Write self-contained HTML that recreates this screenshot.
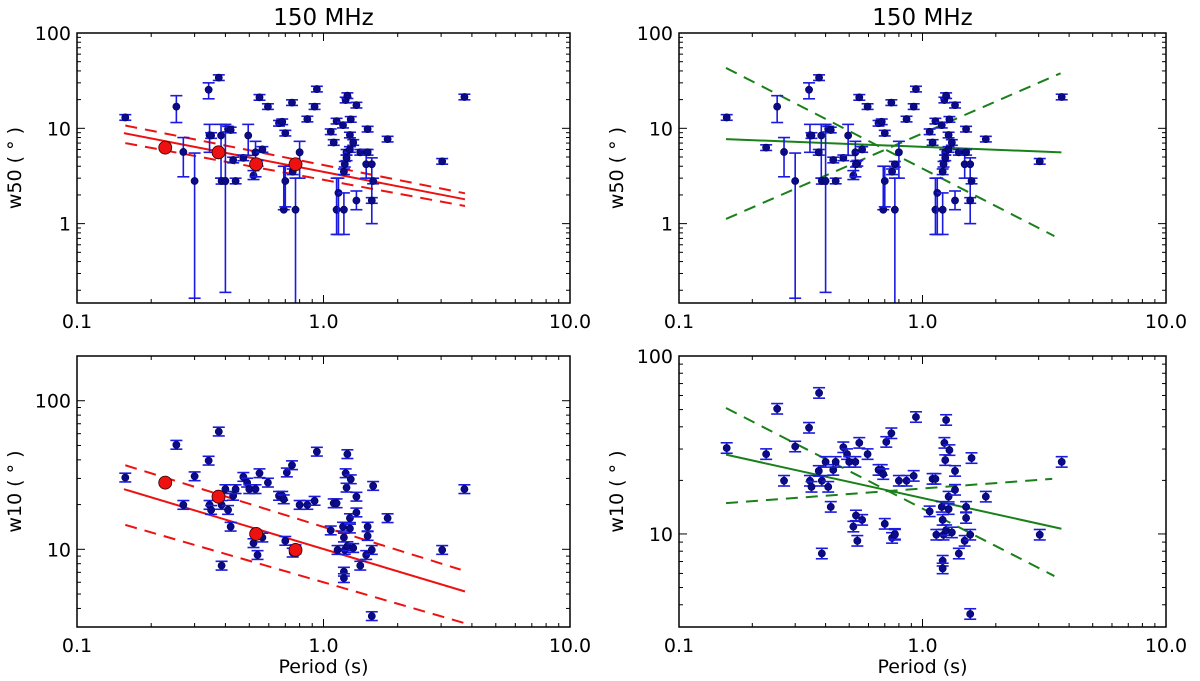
<!DOCTYPE html>
<html><head><meta charset="utf-8">
<style>
html,body{margin:0;padding:0;background:#fff;}
svg{display:block;font-family:"DejaVu Sans","Liberation Sans",sans-serif;}
</style></head>
<body>
<svg id="fig" width="1200" height="681" viewBox="0 0 1200 681" xmlns="http://www.w3.org/2000/svg"></svg>
<script>
// ---- top row data: period (s) and w50 (deg) ----
const p50 = [0.157,0.253,0.27,0.30,0.342,0.376,0.345,0.35,0.384,0.386,0.40,0.41,0.42,0.43,0.44,0.473,0.495,0.52,0.53,0.54,0.55,0.565,0.595,0.66,0.68,0.69,0.70,0.70,0.745,0.75,0.77,0.80,0.86,0.92,0.94,1.07,1.10,1.13,1.13,1.15,1.20,1.21,1.21,1.22,1.23,1.24,1.24,1.25,1.28,1.29,1.28,1.32,1.36,1.36,1.41,1.49,1.51,1.51,1.57,1.57,1.59,1.82,3.03,3.73];
const w50 = [13.0,16.9,5.65,2.8,25.4,34,8.45,8.4,8.4,2.8,2.8,9.8,9.6,4.65,2.8,4.9,8.4,3.2,5.6,4.3,21.1,6.0,16.9,11.3,11.7,1.4,8.9,2.8,18.6,3.5,1.4,5.6,12.5,16.9,25.8,9.2,7.1,1.4,11.9,2.1,10.8,3.5,1.4,4.2,19.8,5.6,4.9,22,8.5,12.4,6.0,7.1,17.5,1.75,5.6,4.2,5.6,9.8,4.2,1.75,2.8,7.7,4.5,21.3];
const w50lo = [null,11.5,3.1,0.165,20.4,null,5.6,null,3.0,2.6,0.19,null,null,null,null,null,5.2,2.9,3.1,null,null,null,null,null,null,1.4,null,1.5,null,null,0.1,3.0,null,null,null,null,null,0.77,null,0.77,null,null,0.77,null,null,null,null,null,null,null,null,null,null,1.4,null,3.0,null,null,1.0,null,null,null,null,null];
const w50hi = [null,22,8.0,5.5,30,null,11,null,11,3.0,11,null,null,null,null,null,11,3.6,7.3,null,null,null,null,null,null,4.0,null,4.0,null,null,3.0,7.3,null,null,null,null,null,3.0,null,3.0,null,null,2.1,null,null,null,null,null,null,null,null,null,null,2.2,null,6.0,null,null,4.9,null,null,null,null,null];
const pRed = [0.228,0.375,0.533,0.77];
const w50Red = [6.27,5.6,4.2,4.2];
const w10Red = [28.1,22.6,12.7,9.9];
// ---- bottom row data: period (s) and w10 (deg) ----
const p10 = [0.157,0.253,0.27,0.30,0.342,0.376,0.345,0.35,0.386,0.40,0.41,0.42,0.386,0.43,0.44,0.473,0.49,0.50,0.52,0.53,0.54,0.55,0.565,0.595,0.66,0.68,0.69,0.70,0.71,0.745,0.75,0.77,0.80,0.86,0.92,0.94,1.07,1.10,1.13,1.14,1.20,1.21,1.21,1.21,1.22,1.23,1.24,1.25,1.25,1.28,1.29,1.28,1.32,1.36,1.36,1.41,1.49,1.51,1.51,1.57,1.57,1.59,1.82,3.03,3.73];
const w10 = [30.4,50.5,19.9,31,39.5,62,19.9,18.4,19.9,25.4,18.4,14.2,7.76,22.9,25.4,30.7,28.1,25.4,11.0,25.4,9.15,32.5,12.0,28.1,22.9,22.9,21.7,11.4,32.9,36.8,9.5,10,19.9,19.9,21.2,45.4,13.4,20.4,20.4,9.9,14.2,12.0,7.07,6.4,9.9,32.5,26,43.7,10.5,16.2,29.6,13.8,10.2,22.6,17.7,7.76,9.15,14.2,12.3,9.9,3.55,26.7,16.2,9.9,25.4];
// ---- fit lines: [P_start, w_start, P_end, w_end] ----
const redFit50 = [0.155,8.9,3.75,1.8];
const redUp50 = [0.157,10.7,3.75,2.08];
const redLo50 = [0.157,7.0,3.75,1.53];
const redFit10 = [0.155,25.4,3.75,5.2];
const redUp10 = [0.157,36.8,3.6,7.3];
const redLo10 = [0.157,14.6,3.7,3.2];
const grnFit50 = [0.156,7.7,3.72,5.6];
const grnDn50 = [0.156,43,3.48,0.74];
const grnUp50 = [0.156,1.12,3.69,37.8];
const grnFit10 = [0.156,27.9,3.72,10.7];
const grnDn10 = [0.156,51,3.48,5.8];
const grnUp10 = [0.156,14.9,3.41,20.4];
const xTicks = ["0.1","1.0","10.0"];

const NS="http://www.w3.org/2000/svg";
const svg=document.getElementById('fig');
function mk(tag,attrs,parent){const e=document.createElementNS(NS,tag);for(const k in attrs)e.setAttribute(k,attrs[k]);(parent||svg).appendChild(e);return e;}
const L10=Math.log10;

function panel(cfg){
  const g=mk('g',{});
  
  
  const X=p=>cfg.x0+(L10(p)-(-1))/2*(cfg.x1-cfg.x0);
  const Y=v=>cfg.y1-(L10(v)-L10(cfg.ymin))/(L10(cfg.ymax)-L10(cfg.ymin))*(cfg.y1-cfg.y0);
  const cid='clip'+cfg.name;
  const cp=mk('clipPath',{id:cid},g);
  mk('rect',{x:cfg.x0,y:cfg.y0,width:cfg.x1-cfg.x0,height:cfg.y1-cfg.y0},cp);
  const plot=mk('g',{'clip-path':'url(#'+cid+')'},g);
  
  
  // lines
  function line(arr,color,dashed,nm){
    const l=mk('line',{x1:X(arr[0]),y1:Y(arr[1]),x2:X(arr[2]),y2:Y(arr[3]),stroke:color,'stroke-width':2,'stroke-dasharray':dashed?'12,8':'none'},plot);
    
    
  }
  cfg.lines.forEach(a=>line(a[0],a[1],a[2],a[3]));
  // blue points
  function points(P,W,LO,HI){
    for(let i=0;i<P.length;i++){
      const x=X(P[i]),lo=(LO&&LO[i]!=null)?LO[i]:W[i]/1.07,hi=(HI&&HI[i]!=null)?HI[i]:W[i]*1.07;
      const eb=mk('g',{stroke:'#1a1ae0','stroke-width':1.6},plot);
      
      
      mk('line',{x1:x,x2:x,y1:Y(lo),y2:Y(hi)},eb);
      mk('line',{x1:x-6,x2:x+6,y1:Y(lo),y2:Y(lo)},eb);
      mk('line',{x1:x-6,x2:x+6,y1:Y(hi),y2:Y(hi)},eb);
      const c=mk('circle',{cx:x,cy:Y(W[i]),r:3.6,fill:'#0b0b8a',stroke:'#000050','stroke-width':0.6},plot);
      
      
    }
  }
  points(cfg.P,cfg.W,cfg.LO,cfg.HI);
  if(cfg.extraBlue) points(pRed,cfg.extraBlue,null,null);
  if(cfg.red){
    for(let i=0;i<pRed.length;i++){
      const c=mk('circle',{cx:X(pRed[i]),cy:Y(cfg.red[i]),r:6.5,fill:'#ee1111',stroke:'#300','stroke-width':0.8},plot);
      
      
    }
  }
  // frame
  const fr=mk('rect',{x:cfg.x0,y:cfg.y0,width:cfg.x1-cfg.x0,height:cfg.y1-cfg.y0,fill:'none',stroke:'#000','stroke-width':1.5},g);
  
  
  // x ticks
  const tk=mk('g',{stroke:'#000','stroke-width':1},g);
  for(let d=-1;d<=1;d++){
    for(let m=1;m<=9;m++){
      const v=Math.pow(10,d)*m; if(L10(v)>1.0001)continue;
      const x=X(v),len=m==1?8:4;
      mk('line',{x1:x,x2:x,y1:cfg.y1,y2:cfg.y1-len},tk);
      mk('line',{x1:x,x2:x,y1:cfg.y0,y2:cfg.y0+len},tk);
    }
  }
  xTicks.forEach((t,i)=>{
    const tx=mk('text',{x:X(Math.pow(10,i-1)),y:cfg.y1+25,'text-anchor':'middle','font-size':19,fill:'#000'},g);
    tx.textContent=t;
    
    
  });
  // y ticks
  for(let d=-1;d<=2;d++){
    for(let m=1;m<=9;m++){
      const v=Math.pow(10,d)*m; if(v<cfg.ymin*0.999||v>cfg.ymax*1.001)continue;
      const y=Y(v),len=m==1?8:4;
      mk('line',{x1:cfg.x0,x2:cfg.x0+len,y1:y,y2:y},tk);
      mk('line',{x1:cfg.x1,x2:cfg.x1-len,y1:y,y2:y},tk);
    }
  }
  cfg.yLabels.forEach(v=>{
    const tx=mk('text',{x:cfg.x0-6,y:Y(v)+7,'text-anchor':'end','font-size':19,fill:'#000'},g);
    tx.textContent=String(v);
    
    
  });
  const yl=mk('text',{x:0,y:0,'text-anchor':'middle','font-size':19,fill:'#000',transform:'translate('+(cfg.x0-56)+','+((cfg.y0+cfg.y1)/2)+') rotate(-90)'},g);
  yl.textContent=cfg.ylabel;
  
  
  if(cfg.title){
    const t=mk('text',{x:(cfg.x0+cfg.x1)/2,y:25,'text-anchor':'middle','font-size':23,fill:'#000'},g);
    t.textContent=cfg.title;
    
    
  }
  if(cfg.xlabel){
    const t=mk('text',{x:(cfg.x0+cfg.x1)/2,y:673,'text-anchor':'middle','font-size':19,fill:'#000'},g);
    t.textContent=cfg.xlabel;
    
    
  }
}
const R='#ee1111',G='#1a801a';
panel({name:'w50-fit-panel',x0:77,x1:570,y0:33,y1:303,ymin:0.147,ymax:100,P:p50,W:w50,LO:w50lo,HI:w50hi,red:w50Red,
  lines:[[redFit50,R,false,'fit-line'],[redUp50,R,true,'upper-bound'],[redLo50,R,true,'lower-bound']],
  yLabels:[100,10,1],ylabel:'w50 ( ° )',title:'150 MHz'});
panel({name:'w50-green-panel',x0:679,x1:1166,y0:33,y1:303,ymin:0.147,ymax:100,P:p50,W:w50,LO:w50lo,HI:w50hi,extraBlue:w50Red,
  lines:[[grnFit50,G,false,'fit-line'],[grnDn50,G,true,'upper-bound'],[grnUp50,G,true,'lower-bound']],
  yLabels:[100,10,1],ylabel:'w50 ( ° )',title:'150 MHz'});
panel({name:'w10-fit-panel',x0:77,x1:570,y0:356,y1:627,ymin:3,ymax:200,P:p10,W:w10,red:w10Red,
  lines:[[redFit10,R,false,'fit-line'],[redUp10,R,true,'upper-bound'],[redLo10,R,true,'lower-bound']],
  yLabels:[100,10],ylabel:'w10 ( ° )',xlabel:'Period (s)'});
panel({name:'w10-green-panel',x0:679,x1:1166,y0:356,y1:627,ymin:3,ymax:100,P:p10,W:w10,extraBlue:w10Red,
  lines:[[grnFit10,G,false,'fit-line'],[grnDn10,G,true,'upper-bound'],[grnUp10,G,true,'lower-bound']],
  yLabels:[100,10],ylabel:'w10 ( ° )',xlabel:'Period (s)'});
</script>
</body></html>
